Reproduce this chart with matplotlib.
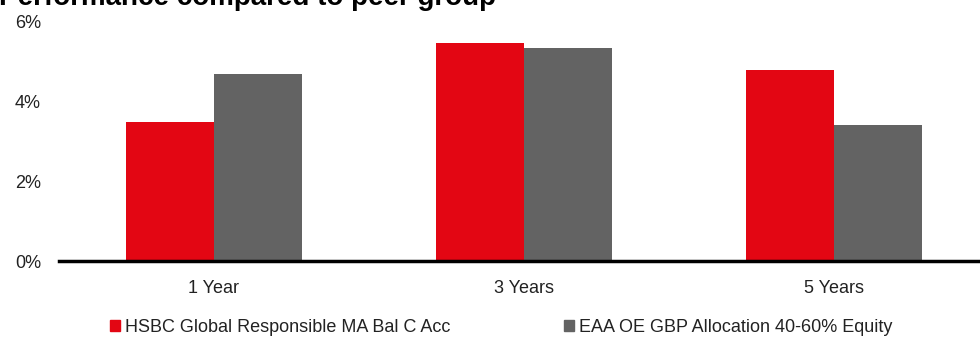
import numpy as np
import matplotlib.pyplot as plt
from matplotlib.patches import Patch

plt.rcParams['font.family'] = ['Liberation Sans', 'DejaVu Sans']

categories = ['1 Year', '3 Years', '5 Years']
fund = [3.48, 5.45, 4.78]
peer = [4.68, 5.33, 3.40]
series_names = ['HSBC Global Responsible MA Bal C Acc', 'EAA OE GBP Allocation 40-60% Equity']
title = 'Performance compared to peer group'

red = '#e30613'
grey = '#636363'

W, H = 980, 338
fig = plt.figure(figsize=(W / 100, H / 100), dpi=100)
ax = fig.add_axes([59 / W, (H - 261) / H, 930 / W, 240 / H])

x = np.arange(len(categories))
w = 0.284
ax.bar(x - w / 2, fund, w, color=red, label=series_names[0])
ax.bar(x + w / 2, peer, w, color=grey, label=series_names[1])

ax.set_xlim(-0.5, 2.5)
ax.set_ylim(0, 6)
ax.set_yticks([0, 2, 4, 6])
ax.set_yticklabels(['0%', '2%', '4%', '6%'])
ax.set_xticks(x)
ax.set_xticklabels(categories)
ax.tick_params(axis='both', length=0, labelsize=13, colors='#222222')
ax.tick_params(axis='y', pad=13)
ax.tick_params(axis='x', pad=13.5)
for s in ['top', 'right', 'left']:
    ax.spines[s].set_visible(False)
ax.spines['bottom'].set_linewidth(2.5)
ax.spines['bottom'].set_color('black')

fig.text(-1 / W, (H - 5) / H, title, fontsize=20, fontweight='bold', va='baseline', ha='left')

handles = [Patch(color=red), Patch(color=grey)]
fig.legend(handles, series_names, loc='center left', bbox_to_anchor=(110 / W, 1 - 327.5 / H),
           ncol=2, frameon=False, fontsize=13, handlelength=0.56, handleheight=0.58,
           handletextpad=0.28, columnspacing=6.3, borderpad=0, borderaxespad=0,
           labelcolor='#222222')

fig.savefig('out.png', dpi=100)
